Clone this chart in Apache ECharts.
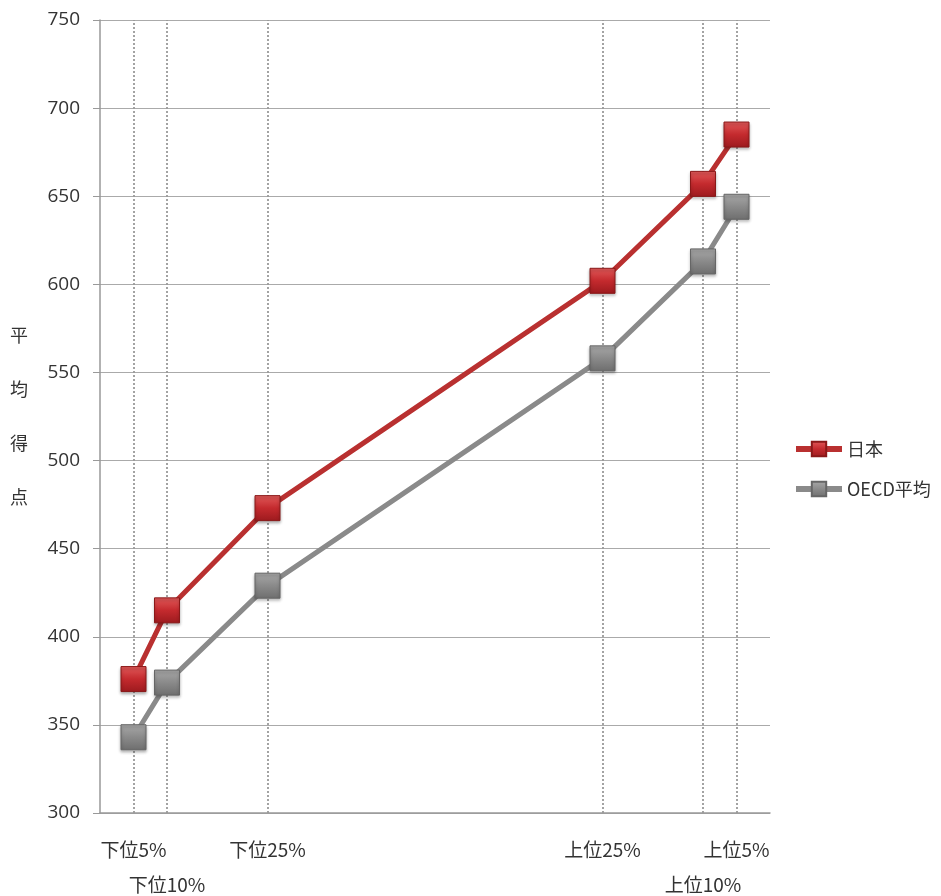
<!DOCTYPE html>
<html>
<head>
<meta charset="utf-8">
<script src="https://cdn.jsdelivr.net/npm/echarts@6/dist/echarts.min.js"></script>
<style>
html,body{margin:0;padding:0;background:#fff;}
#chart{width:941px;height:896px;}
</style>
</head>
<body>
<div id="chart"></div>
<script>
const percentiles = [5, 10, 25, 75, 90, 95];
const tickLabels = ['下位5%', '下位10%', '下位25%', '上位25%', '上位10%', '上位5%'];
const japan = [376, 415, 473, 602, 657, 685];
const oecd = [343, 374, 429, 558, 613, 644];
const seriesNames = ['日本', 'OECD平均'];
const yTitle = ['平', '均', '得', '点'];

const chart = echarts.init(document.getElementById('chart'));
const font = '"Noto Sans CJK JP", "Open Sans", sans-serif';
const labelMap = {};
percentiles.forEach((p, i) => { labelMap[p] = tickLabels[i]; });
const secondRowVals = [10, 90];
const firstRowVals = percentiles.filter(p => secondRowVals.indexOf(p) < 0);

function markerStyle(light, mid, dark, border) {
  return {
    color: new echarts.graphic.LinearGradient(0, 0, 0, 1, [
      { offset: 0, color: light },
      { offset: 0.5, color: mid },
      { offset: 1, color: dark }
    ]),
    borderColor: border,
    borderWidth: 1,
    shadowColor: 'rgba(0,0,0,0.3)',
    shadowBlur: 3,
    shadowOffsetY: 2
  };
}

function xLabelAxis(vals, margin, showLine) {
  return {
    type: 'value',
    min: 0,
    max: 100,
    position: 'bottom',
    axisLine: { show: showLine, lineStyle: { color: '#999', width: 1.5 } },
    axisTick: { show: false },
    splitLine: { show: false },
    axisLabel: {
      customValues: vals,
      hideOverlap: false,
      margin: margin,
      fontFamily: font,
      fontSize: 19,
      color: '#333',
      formatter: v => labelMap[v] || ''
    }
  };
}

chart.setOption({
  animation: false,
  backgroundColor: '#fff',
  grid: { left: 100, right: 171, top: 20, bottom: 83, outerBoundsMode: 'none', containLabel: false },
  legend: {
    orient: 'vertical',
    left: 788,
    top: 435,
    itemGap: 22,
    itemWidth: 46,
    itemHeight: 18,
    lineStyle: { width: 6 },
    textStyle: { fontFamily: font, fontSize: 18, color: '#333' },
    data: seriesNames
  },
  xAxis: [xLabelAxis(firstRowVals, 27, true), xLabelAxis(secondRowVals, 62, false)],
  yAxis: {
    type: 'value',
    min: 300,
    max: 750,
    interval: 50,
    name: yTitle.join('\n'),
    nameLocation: 'middle',
    nameRotate: 0,
    nameGap: 72,
    nameTextStyle: { fontFamily: font, fontSize: 18, color: '#333', lineHeight: 54 },
    axisLine: { show: true, lineStyle: { color: '#999', width: 1.5 } },
    axisTick: { show: true, inside: false, length: 7, lineStyle: { color: '#999' } },
    splitLine: { show: true, lineStyle: { color: '#aaa', width: 1.2 } },
    axisLabel: { margin: 20, fontFamily: '"Open Sans", sans-serif', fontSize: 19, color: '#333' }
  },
  series: [
    {
      name: '_drop',
      type: 'line',
      data: [],
      z: 1,
      silent: true,
      markLine: {
        z: 1,
        silent: true,
        symbol: 'none',
        label: { show: false },
        emphasis: { disabled: true },
        lineStyle: { color: '#999', type: [2, 2], width: 1.8 },
        data: percentiles.map(p => ({ xAxis: p }))
      }
    },
    {
      name: seriesNames[0],
      type: 'line',
      z: 3,
      data: percentiles.map((p, i) => [p, japan[i]]),
      symbol: 'rect',
      symbolSize: 25,
      lineStyle: { color: '#b93030', width: 5 },
      itemStyle: markerStyle('#e25a5a', '#c42a2e', '#9c1a1e', '#8a1818')
    },
    {
      name: seriesNames[1],
      type: 'line',
      z: 2,
      data: percentiles.map((p, i) => [p, oecd[i]]),
      symbol: 'rect',
      symbolSize: 25,
      lineStyle: { color: '#8a8a8a', width: 5 },
      itemStyle: markerStyle('#a8a8a8', '#8a8a8a', '#6e6e6e', '#666')
    }
  ]
});
</script>
</body>
</html>
